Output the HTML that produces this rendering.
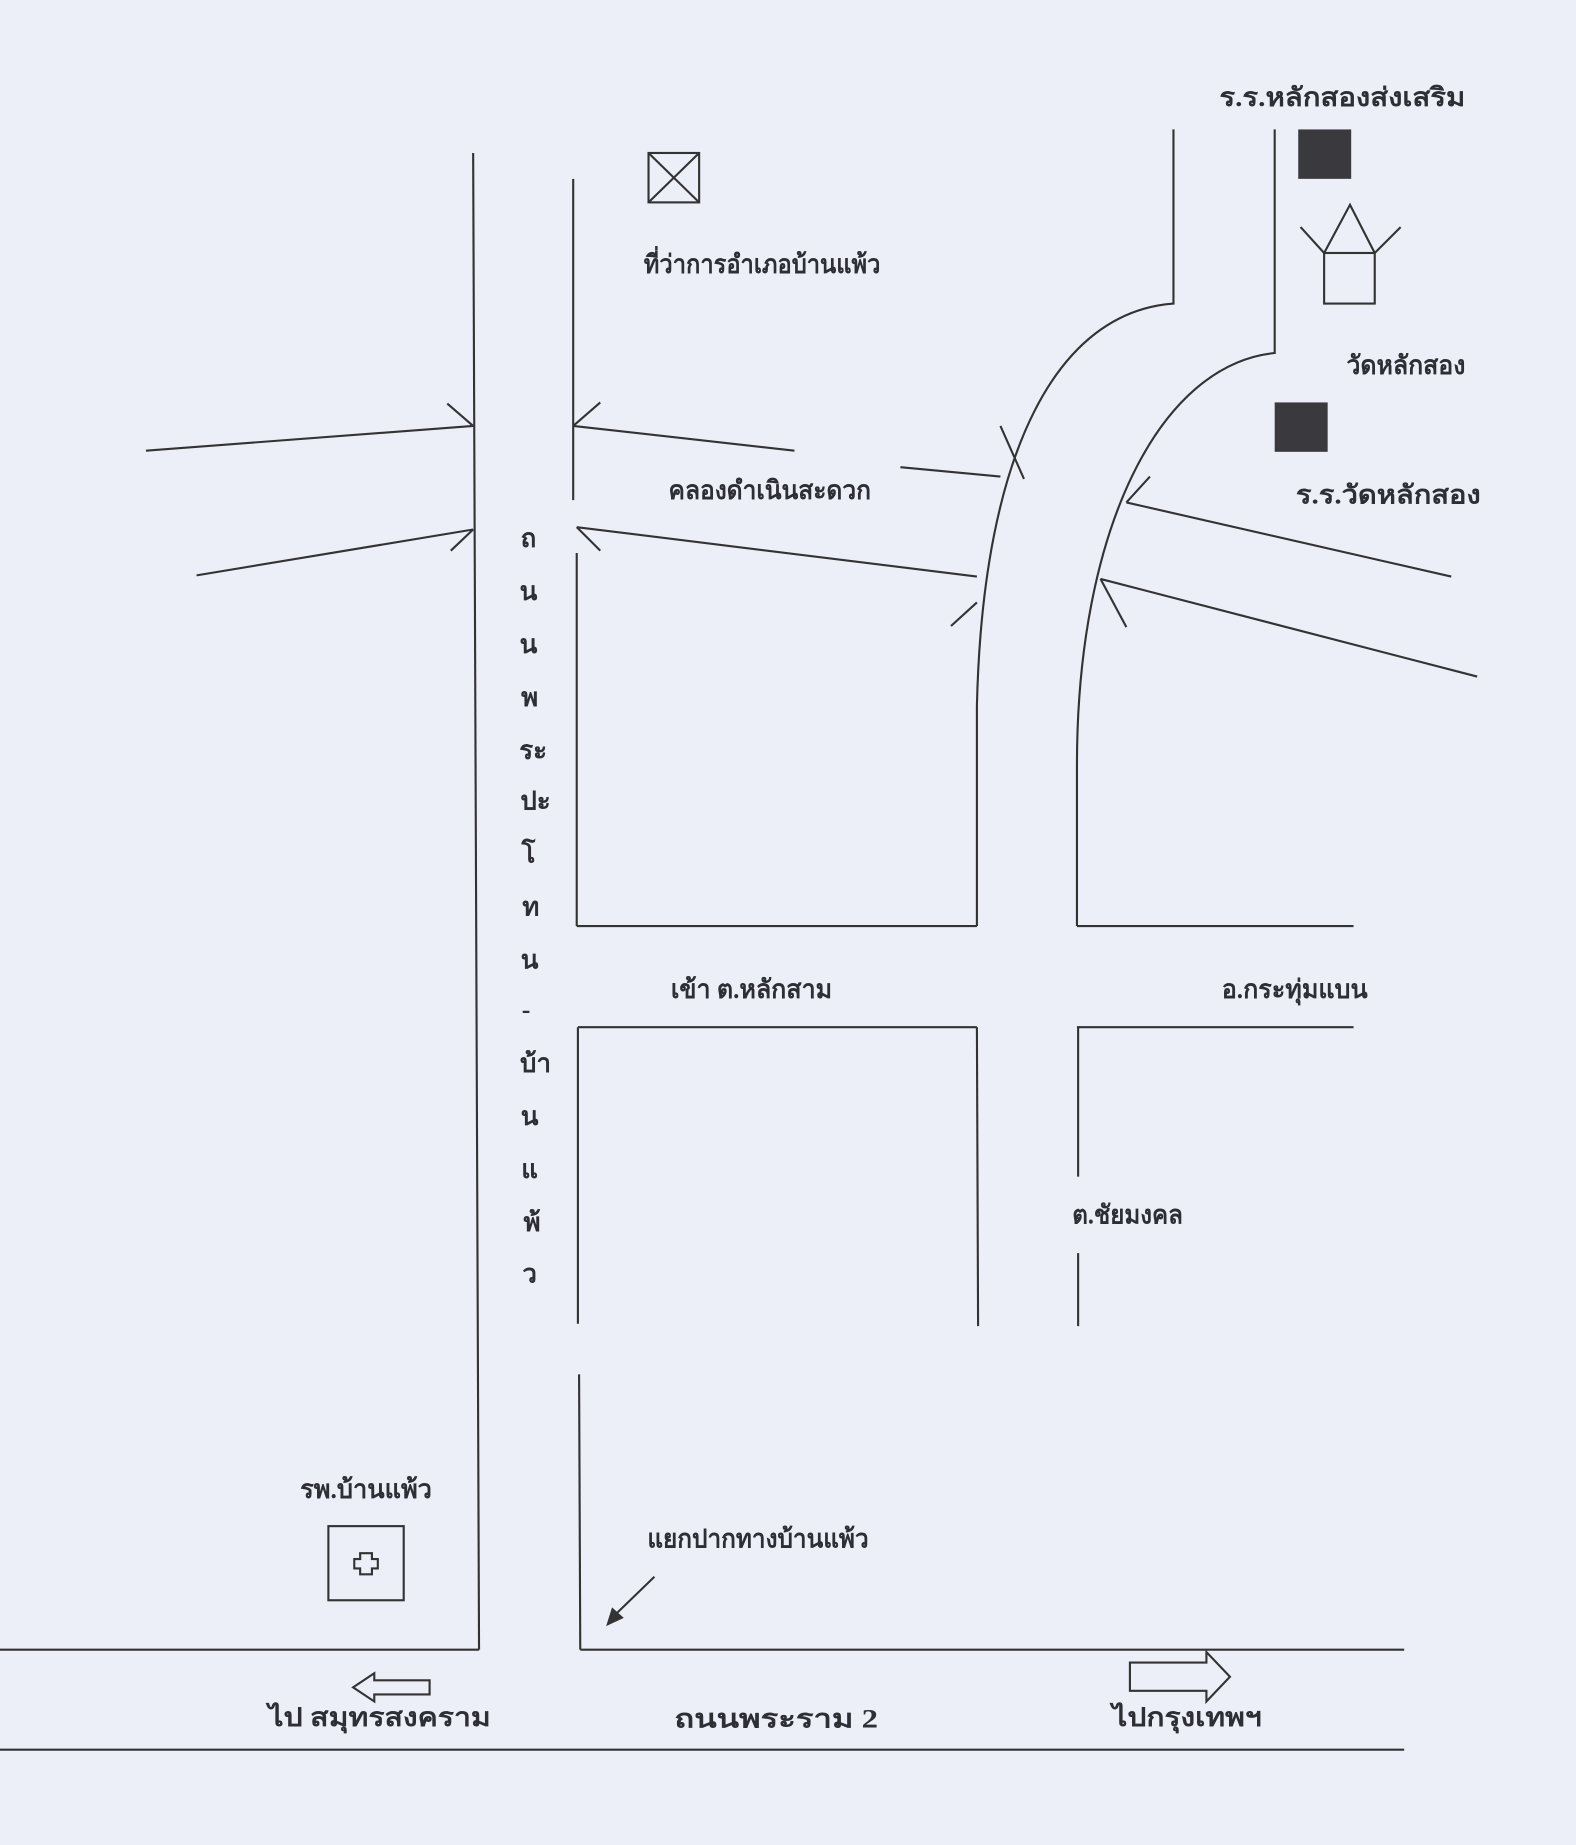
<!DOCTYPE html>
<html><head><meta charset="utf-8"><style>
html,body{margin:0;padding:0;background:#eceff8;}
svg{display:block;}
text{font-family:"Liberation Serif","DejaVu Serif",serif;font-weight:bold;fill:#2e2e35;font-size:22px;}
</style></head><body>
<svg width="1576" height="1845" viewBox="0 0 1339 1568" preserveAspectRatio="none" xmlns="http://www.w3.org/2000/svg">
<rect width="1339" height="1568" fill="#eceff8"/>
<g stroke="#333" stroke-width="1.8" fill="none">
<line x1="402" y1="130" x2="407" y2="1402"/>
<line x1="487" y1="152" x2="487" y2="425"/>
<line x1="490" y1="470" x2="490" y2="787"/>
<line x1="491" y1="873" x2="491" y2="1125"/>
<line x1="492" y1="1168" x2="493" y2="1402"/>
<line x1="0" y1="1402" x2="407" y2="1402"/>
<line x1="493" y1="1402" x2="1193" y2="1402"/>
<line x1="0" y1="1487" x2="1193" y2="1487"/>
<line x1="124" y1="383" x2="402" y2="362"/>
<line x1="380" y1="343" x2="402" y2="362"/>
<line x1="167" y1="489" x2="402" y2="450"/>
<line x1="383" y1="468" x2="402" y2="450"/>
<line x1="487" y1="362" x2="675" y2="383"/>
<line x1="510" y1="342" x2="487" y2="362"/>
<line x1="490" y1="448" x2="830" y2="490"/>
<line x1="510" y1="468" x2="490" y2="448"/>
<line x1="765" y1="397" x2="850" y2="405"/>
<line x1="850" y1="362" x2="870" y2="407"/>
<line x1="808" y1="532" x2="830" y2="512"/>
<path d="M997,110 L997,258 C900,265 835,380 830,600 L830,787"/>
<path d="M1083,110 L1083,300 C985,310 915,450 915,650 L915,787"/>
<line x1="490" y1="787" x2="830" y2="787"/>
<line x1="915" y1="787" x2="1150" y2="787"/>
<line x1="491" y1="873" x2="830" y2="873"/>
<line x1="915" y1="873" x2="1150" y2="873"/>
<line x1="830" y1="873" x2="831" y2="1127"/>
<line x1="916" y1="873" x2="916" y2="1000"/>
<line x1="916" y1="1065" x2="916" y2="1127"/>
<line x1="957" y1="427" x2="1233" y2="490"/>
<line x1="977" y1="405" x2="957" y2="427"/>
<line x1="935" y1="492" x2="1255" y2="575"/>
<line x1="935" y1="492" x2="957" y2="533"/>
<rect x="551" y="130" width="43" height="42"/>
<line x1="551" y1="130" x2="594" y2="172"/>
<line x1="594" y1="130" x2="551" y2="172"/>
<polyline points="1125,215 1147,174 1168,215"/>
<rect x="1125" y="215" width="43" height="43"/>
<line x1="1105" y1="193" x2="1125" y2="215"/>
<line x1="1190" y1="193" x2="1168" y2="215"/>
<rect x="279" y="1297" width="64" height="63"/>
<path d="M306,1320 h10 v5 h5 v8 h-5 v5 h-10 v-5 h-5 v-8 h5 z"/>
<line x1="556" y1="1340" x2="522" y2="1373"/>
<path d="M365,1428 L318,1428 L318,1422 L300,1434 L318,1446 L318,1440 L365,1440 Z"/>
<path d="M960,1413 L1025,1413 L1025,1404 L1045,1425 L1025,1446 L1025,1437 L960,1437 Z"/>
</g>
<rect x="1103" y="110" width="45" height="42" fill="#3a3a3e"/>
<rect x="1083" y="342" width="45" height="42" fill="#3a3a3e"/>
<polygon points="515,1382 520,1366 530,1375" fill="#333"/>
<g lengthAdjust="spacingAndGlyphs">
<text x="1036" y="90" textLength="209" lengthAdjust="spacingAndGlyphs">ร.ร.หลักสองส่งเสริม</text>
<text x="547" y="232" textLength="201" lengthAdjust="spacingAndGlyphs">ที่ว่าการอำเภอบ้านแพ้ว</text>
<text x="1144" y="318" font-size="20" textLength="101" lengthAdjust="spacingAndGlyphs">วัดหลักสอง</text>
<text x="1101" y="428" textLength="157" lengthAdjust="spacingAndGlyphs">ร.ร.วัดหลักสอง</text>
<text x="568" y="424" font-size="20" textLength="172" lengthAdjust="spacingAndGlyphs">คลองดำเนินสะดวก</text>
<text x="570" y="848" font-size="20" textLength="137" lengthAdjust="spacingAndGlyphs">เข้า ต.หลักสาม</text>
<text x="1038" y="848" font-size="20" textLength="124" lengthAdjust="spacingAndGlyphs">อ.กระทุ่มแบน</text>
<text x="911" y="1040" font-size="20" textLength="94" lengthAdjust="spacingAndGlyphs">ต.ชัยมงคล</text>
<text x="255" y="1273" font-size="20" textLength="112" lengthAdjust="spacingAndGlyphs">รพ.บ้านแพ้ว</text>
<text x="550" y="1315" font-size="20" textLength="188" lengthAdjust="spacingAndGlyphs">แยกปากทางบ้านแพ้ว</text>
<text x="228" y="1467" font-size="25" textLength="189" lengthAdjust="spacingAndGlyphs">ไป  สมุทรสงคราม</text>
<text x="573" y="1468" font-size="22" textLength="173" lengthAdjust="spacingAndGlyphs">ถนนพระราม    2</text>
<text x="945" y="1467" font-size="25" textLength="127" lengthAdjust="spacingAndGlyphs">ไปกรุงเทพฯ</text>
</g>
<g font-size="20" text-anchor="middle">
<text x="449" y="465">ถ</text>
<text x="449" y="510">น</text>
<text x="449" y="555">น</text>
<text x="450" y="600">พ</text>
<text x="453" y="645">ระ</text>
<text x="455" y="688">ปะ</text>
<text x="449" y="733">โ</text>
<text x="451" y="778">ท</text>
<text x="450" y="823">น</text>
<text x="447" y="865">-</text>
<text x="455" y="911">บ้า</text>
<text x="450" y="956">น</text>
<text x="450" y="1001">แ</text>
<text x="452" y="1046">พ้</text>
<text x="450" y="1090">ว</text>
</g>
</svg>
</body></html>
